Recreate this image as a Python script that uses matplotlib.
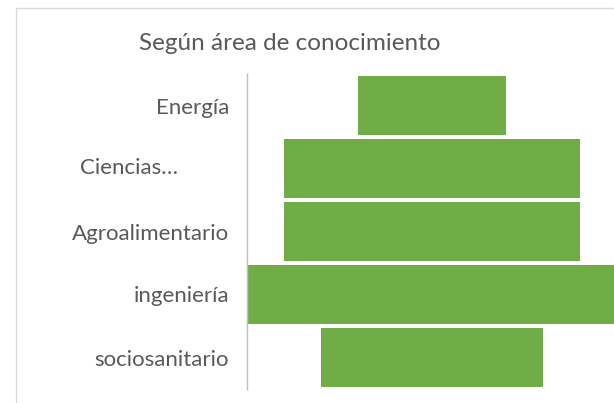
import numpy as np
import matplotlib
matplotlib.use("Agg")
import matplotlib.pyplot as plt
from matplotlib.patches import Rectangle

plt.rcParams['font.family'] = ['Lato', 'DejaVu Sans']

# Funnel data (relative widths)
categories = ["Energía", "Ciencias…", "Agroalimentario", "ingeniería", "sociosanitario"]
values = [2, 4, 4, 5, 3]

W, H = 614, 403
fig = plt.figure(figsize=(W / 100, H / 100), dpi=100)

# chart border (light gray, runs off the right/bottom edge)
fig.patches.append(Rectangle((16 / W, -0.1), 1.2, 1 - 8 / H + 0.1,
                             transform=fig.transFigure, fill=False,
                             edgecolor="#D9D9D9", linewidth=1.0))

ax = fig.add_axes([247 / W, 1 - 389 / H, 370 / W, (389 - 74) / H])
vmax = max(values)
y = np.arange(len(categories))
lefts = [(vmax - v) / 2 for v in values]
ax.barh(y, values, left=lefts, height=0.95, color="#70AD47")

ax.set_xlim(0, vmax)
ax.set_ylim(len(categories) - 0.5, -0.5)
ax.set_yticks(y)
# the truncated label sits centred in the label area, like Excel draws it
ticklabels = [c if not c.endswith("…") else "" for c in categories]
ax.set_yticklabels(ticklabels, fontsize=16, color="#595959")
for i, c in enumerate(categories):
    if c.endswith("…"):
        ax.text(-118 / 370 * vmax, i, c, ha="center", va="center",
                fontsize=16, color="#595959", clip_on=False)
ax.tick_params(axis="y", length=0, pad=13)
ax.set_xticks([])
for s in ["top", "right", "bottom"]:
    ax.spines[s].set_visible(False)
ax.spines["left"].set_color("#BFBFBF")
ax.spines["left"].set_linewidth(1.0)

fig.text(290 / W, 1 - 44 / H, "Según área de conocimiento", ha="center", va="center",
         fontsize=17.5, color="#595959")

fig.savefig("out.png", dpi=100)
